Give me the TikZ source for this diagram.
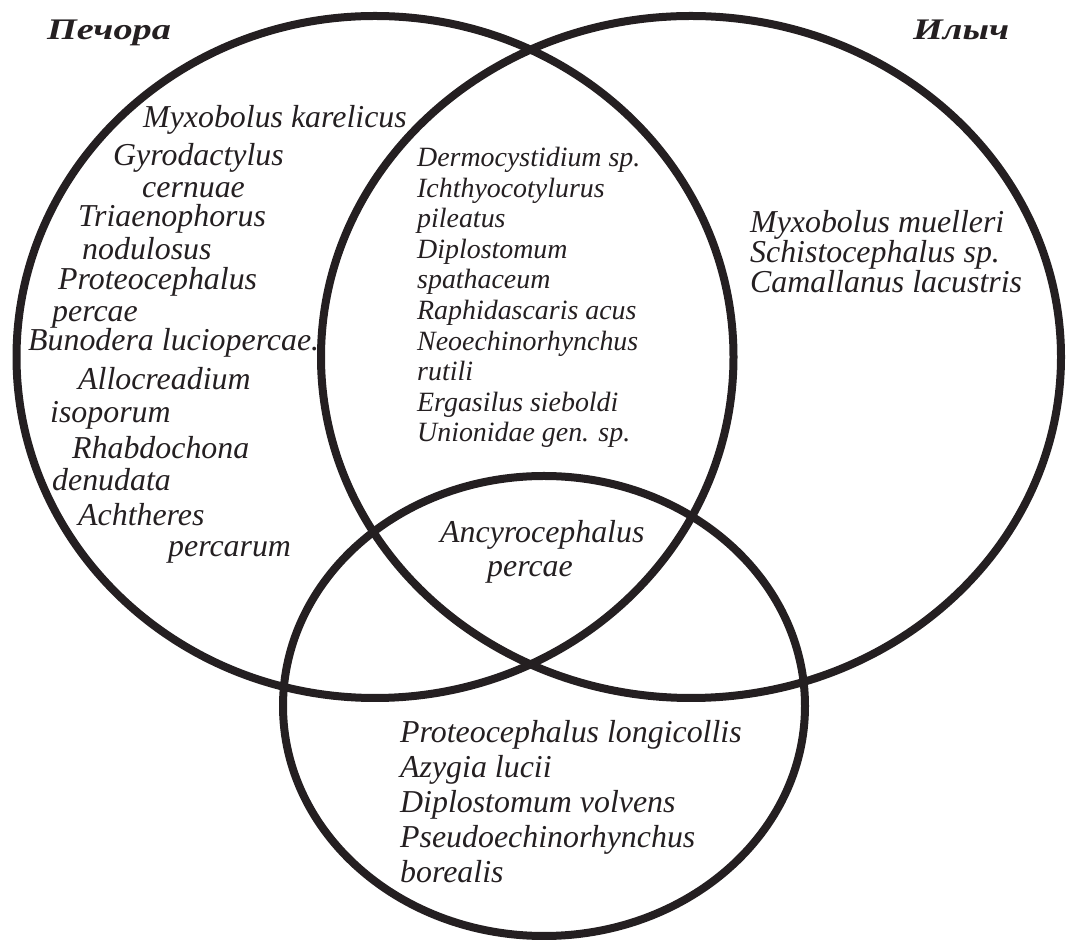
\documentclass[tikz,border=0pt]{standalone}
\usepackage{fontspec}
\usepackage{graphicx}
\setmainfont{Liberation Serif}
\usetikzlibrary{shapes}

\newcommand{\widetitle}[1]{\scalebox{1.28}[1]{#1}}

\begin{document}
\begin{tikzpicture}[line join=bevel,
  ring/.style={draw=inkcolor,line width=8bp,ellipse,inner sep=0pt},
  taxon/.style={anchor=base west,inner sep=0pt,text=inkcolor,font=\fontsize{32}{38}\selectfont\itshape},
  taxonsmall/.style={taxon,font=\fontsize{28}{31}\selectfont\itshape},
  river/.style={anchor=base west,inner sep=0pt,text=inkcolor,font=\fontsize{30}{36}\selectfont\bfseries\itshape}]
%%
\definecolor{inkcolor}{rgb}{0.14,0.12,0.13};
  \path[use as bounding box] (0bp,0bp) rectangle (1066bp,944bp);
  \node (pechora_ring) at (375bp,587bp) [ring,minimum width=717bp,minimum height=682bp] {};
  \node (ilych_ring) at (691bp,587bp) [ring,minimum width=740bp,minimum height=682bp] {};
  \node (third_ring) at (544bp,238bp) [ring,minimum width=522bp,minimum height=460bp] {};
  \node (pechora) at (47bp,904bp) [river] {\widetitle{Печора}};
  \node (ilych) at (913bp,904bp) [river] {\widetitle{Илыч}};
  % Pechora only
  \node (myx_kar) at (143bp,816bp) [taxon] {Myxobolus karelicus};
  \node (gyro) at (113bp,778bp) [taxon] {Gyrodactylus};
  \node (gyro_b) at (142bp,746bp) [taxon] {cernuae};
  \node (tria) at (78bp,717bp) [taxon] {Triaenophorus};
  \node (tria_b) at (82bp,684bp) [taxon] {nodulosus};
  \node (proteo) at (58bp,654bp) [taxon] {Proteocephalus};
  \node (proteo_b) at (52bp,622bp) [taxon] {percae};
  \node (bunod) at (28bp,593bp) [taxon] {Bunodera luciopercae.};
  \node (alloc) at (78bp,554bp) [taxon] {Allocreadium};
  \node (alloc_b) at (50bp,521bp) [taxon] {isoporum};
  \node (rhabd) at (72bp,485bp) [taxon] {Rhabdochona};
  \node (rhabd_b) at (52bp,453bp) [taxon] {denudata};
  \node (achth) at (78bp,418bp) [taxon] {Achtheres};
  \node (achth_b) at (168bp,387bp) [taxon] {percarum};
  % Pechora and Ilych
  \node (dermo) at (417bp,777bp) [taxonsmall] {Dermocystidium sp.};
  \node (ichth) at (417bp,746bp) [taxonsmall] {Ichthyocotylurus};
  \node (ichth_b) at (417bp,716bp) [taxonsmall] {pileatus};
  \node (diplo) at (417bp,685bp) [taxonsmall] {Diplostomum};
  \node (diplo_b) at (417bp,655bp) [taxonsmall] {spathaceum};
  \node (raphi) at (417bp,624bp) [taxonsmall] {Raphidascaris acus};
  \node (neoech) at (417bp,593bp) [taxonsmall] {Neoechinorhynchus};
  \node (neoech_b) at (417bp,563bp) [taxonsmall] {rutili};
  \node (ergas) at (417bp,532bp) [taxonsmall] {Ergasilus sieboldi};
  \node (union) at (417bp,502bp) [taxonsmall] {Unionidae gen. sp.};
  % Ilych only
  \node (myx_mue) at (750bp,711bp) [taxon] {Myxobolus muelleri};
  \node (schist) at (750bp,681bp) [taxon] {Schistocephalus sp.};
  \node (camal) at (750bp,651bp) [taxon] {Camallanus lacustris};
  % all three
  \node (ancyro) at (440bp,401bp) [taxon] {Ancyrocephalus};
  \node (ancyro_b) at (487bp,367bp) [taxon] {percae};
  % third only
  \node (proteo_l) at (400bp,201bp) [taxon] {Proteocephalus longicollis};
  \node (azyg) at (400bp,166bp) [taxon] {Azygia lucii};
  \node (diplo_v) at (400bp,131bp) [taxon] {Diplostomum volvens};
  \node (pseudo) at (400bp,96bp) [taxon] {Pseudoechinorhynchus};
  \node (pseudo_b) at (400bp,61bp) [taxon] {borealis};
%
\end{tikzpicture}
\end{document}
